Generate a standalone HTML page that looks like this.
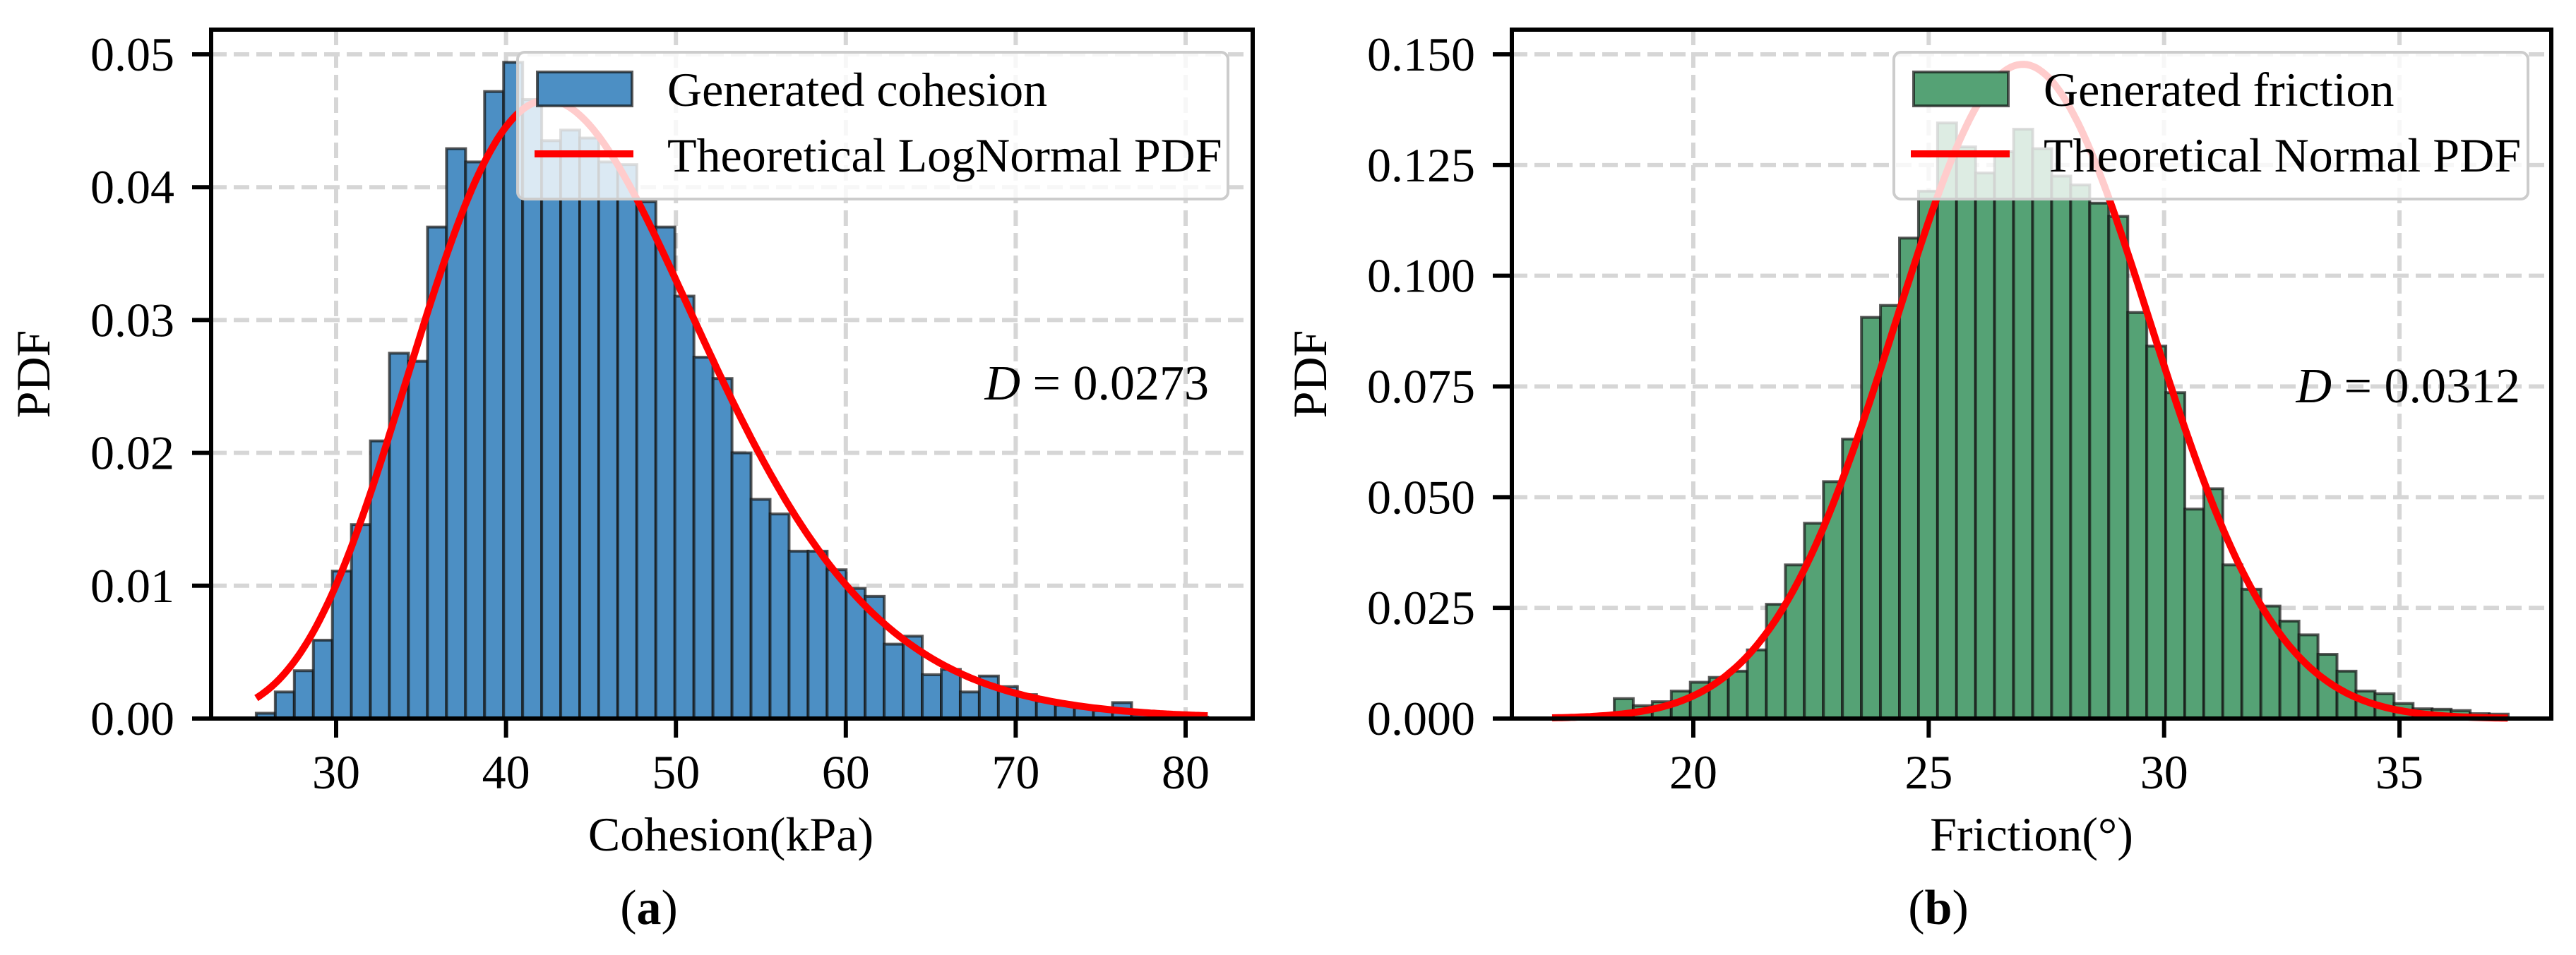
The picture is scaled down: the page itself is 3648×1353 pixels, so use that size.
<!DOCTYPE html>
<html><head><meta charset="utf-8">
<style>
html,body{margin:0;padding:0;background:#fff;}
svg{display:block;}
text{font-family:"Liberation Serif","DejaVu Serif",serif;fill:#000;}
</style></head>
<body>
<svg id="fig" width="3648" height="1353" viewBox="0 0 3648 1353" xmlns="http://www.w3.org/2000/svg"></svg>
<script>
// ---- Data: panel (a) cohesion ----
const cohBinStart = 25.3;
const cohBinWidth = 1.12;
const cohValues = [0.0004,0.0020,0.0036,0.0059,0.0111,0.0146,0.0209,0.0275,0.0269,0.0370,0.0429,0.0419,0.0472,0.0494,0.0466,0.0435,0.0443,0.0437,0.0419,0.0417,0.0389,0.0370,0.0318,0.0272,0.0256,0.0200,0.0165,0.0154,0.0126,0.0126,0.0112,0.0098,0.0092,0.0056,0.0062,0.0033,0.0037,0.0020,0.0032,0.0024,0.0018,0.0013,0.0010,0.0008,0.0006,0.0012,0.0003,0.0002,0.0001,0.0001];
const cohXTicks = [30,40,50,60,70,80];
const cohYTicks = [0.00,0.01,0.02,0.03,0.04,0.05];
const cohYTickLabels = ["0.00","0.01","0.02","0.03","0.04","0.05"];
const cohLogMu = 3.787;
const cohLogSigma = 0.198;
const cohCurveRange = [25.3,81.3];
// ---- Data: panel (b) friction ----
const friBinStart = 18.32;
const friBinWidth = 0.404;
const friValues = [0.0045,0.0029,0.0038,0.0062,0.0082,0.0093,0.0107,0.0155,0.0258,0.0347,0.0441,0.0535,0.0631,0.0906,0.0933,0.1085,0.1191,0.1345,0.1291,0.1232,0.1280,0.1331,0.1287,0.1225,0.1205,0.1164,0.1134,0.0917,0.0841,0.0736,0.0473,0.0519,0.0347,0.0292,0.0254,0.0220,0.0189,0.0145,0.0107,0.0062,0.0056,0.0034,0.0022,0.0021,0.0018,0.0011,0.0010];
const friXTicks = [20,25,30,35];
const friYTicks = [0,0.025,0.05,0.075,0.1,0.125,0.15];
const friYTickLabels = ["0.000","0.025","0.050","0.075","0.100","0.125","0.150"];
const friMean = 27.0;
const friStd = 2.70;
const friCurveRange = [17.0,37.3];

const NS="http://www.w3.org/2000/svg";
const svg=document.getElementById('fig');
function mk(tag,attrs,parent){const e=document.createElementNS(NS,tag);for(const k in attrs)e.setAttribute(k,attrs[k]);(parent||svg).appendChild(e);return e;}

function panel(o){
  const g=mk('g',{});
  
  
  const L=o.left,R=o.right,T=42,B=1018;
  const xs=v=>o.x0px+(v-o.x0)*o.xScale;
  const ys=v=>B-(v/o.yMax)*(B-o.yMaxPx);
  // grid
  const grid=mk('g',{},g);
  
  
  o.xTicks.forEach(t=>{mk('line',{x1:xs(t),x2:xs(t),y1:T,y2:B,stroke:'#d6d6d6','stroke-width':6,'stroke-dasharray':'22,10'},grid);});
  o.yTicks.forEach(t=>{mk('line',{x1:L,x2:R,y1:ys(t),y2:ys(t),stroke:'#d6d6d6','stroke-width':6,'stroke-dasharray':'22,10'},grid);});
  // bars
  const bars=mk('g',{},g);
  
  
  o.values.forEach((v,i)=>{
    const x1=xs(o.binStart+i*o.binWidth),x2=xs(o.binStart+(i+1)*o.binWidth);
    const r=mk('rect',{x:x1,y:ys(v),width:x2-x1,height:B-ys(v),fill:o.color,stroke:'rgba(20,20,20,0.7)','stroke-width':4},bars);
    
    
  });
  // curve
  let d='';const N=300;
  for(let i=0;i<=N;i++){const x=o.curveRange[0]+(o.curveRange[1]-o.curveRange[0])*i/N;d+=(i?'L':'M')+xs(x).toFixed(1)+','+ys(o.pdf(x)).toFixed(1);}
  const c=mk('path',{d:d,fill:'none',stroke:'#ff0000','stroke-width':10},g);
  
  
  // frame
  const f=mk('rect',{x:L,y:T,width:R-L,height:B-T,fill:'none',stroke:'#000','stroke-width':6},g);
  
  
  // ticks
  o.xTicks.forEach(t=>{
    mk('line',{x1:xs(t),x2:xs(t),y1:B,y2:B+27,stroke:'#000','stroke-width':6},g);
    const tx=mk('text',{x:xs(t),y:1117,'font-size':68,'text-anchor':'middle'},g);tx.textContent=t;
    
    
  });
  o.yTicks.forEach((t,i)=>{
    mk('line',{x1:L-27,x2:L,y1:ys(t),y2:ys(t),stroke:'#000','stroke-width':6},g);
    const tx=mk('text',{x:L-52,y:ys(t)+23,'font-size':68,'text-anchor':'end'},g);tx.textContent=o.yLabels[i];
    
    
  });
  // axis titles
  const xl=mk('text',{x:o.xTitleX,y:1205,'font-size':68,'text-anchor':'middle'},g);xl.textContent=o.xTitle;
  
  
  const yl=mk('text',{x:0,y:0,'font-size':68,'text-anchor':'middle',transform:`translate(${o.yTitleX},${(T+B)/2}) rotate(-90)`},g);yl.textContent='PDF';
  
  
  // D annotation
  const dt=mk('text',{x:o.dX,y:o.dY,'font-size':70,'text-anchor':'end'},g);
  dt.innerHTML='<tspan font-style="italic">D</tspan> = '+o.dVal;
  
  
  // legend
  const lg=mk('g',{},g);
  
  
  mk('rect',{x:o.legX,y:74,width:o.legW,height:208,rx:10,fill:'rgba(255,255,255,0.8)',stroke:'#cccccc','stroke-width':4},lg);
  const p=mk('rect',{x:o.legX+28,y:102,width:134,height:48,fill:o.color,stroke:'rgba(20,20,20,0.7)','stroke-width':4},lg);
  
  
  const t1=mk('text',{x:o.legX+212,y:150,'font-size':68},lg);t1.textContent=o.leg1;
  
  
  const ln=mk('line',{x1:o.legX+24,x2:o.legX+164,y1:218,y2:218,stroke:'#ff0000','stroke-width':10},lg);
  
  
  const t2=mk('text',{x:o.legX+212,y:243,'font-size':68},lg);t2.textContent=o.leg2;
  
  
  // caption
  const cap=mk('text',{x:o.capX,y:1309,'font-size':70,'text-anchor':'middle'},g);
  cap.innerHTML='(<tspan font-weight="bold">'+o.cap+'</tspan>)';
  
  
}

panel({name:'cohesion-panel',left:299,right:1774,x0:30,x0px:476,xScale:24.06,yMax:0.05,yMaxPx:77,
  values:cohValues,binStart:cohBinStart,binWidth:cohBinWidth,color:'#4c8fc4',
  xTicks:cohXTicks,yTicks:cohYTicks,yLabels:cohYTickLabels,curveRange:cohCurveRange,
  pdf:x=>Math.exp(-Math.pow(Math.log(x)-cohLogMu,2)/(2*cohLogSigma*cohLogSigma))/(x*cohLogSigma*Math.sqrt(2*Math.PI)),
  xTitle:'Cohesion(kPa)',xTitleX:1035,yTitleX:70,dX:1712,dY:566,dVal:'0.0273',
  legX:733,legW:1006,leg1:'Generated cohesion',leg2:'Theoretical LogNormal PDF',capX:919,cap:'a'});

panel({name:'friction-panel',left:2141,right:3613,x0:20,x0px:2398,xScale:66.67,yMax:0.15,yMaxPx:77,
  values:friValues,binStart:friBinStart,binWidth:friBinWidth,color:'#55a275',
  xTicks:friXTicks,yTicks:friYTicks,yLabels:friYTickLabels,curveRange:friCurveRange,
  pdf:x=>Math.exp(-Math.pow(x-friMean,2)/(2*friStd*friStd))/(friStd*Math.sqrt(2*Math.PI)),
  xTitle:'Friction(°)',xTitleX:2877,yTitleX:1878,dX:3569,dY:570,dVal:'0.0312',
  legX:2682,legW:898,leg1:'Generated friction',leg2:'Theoretical Normal PDF',capX:2745,cap:'b'});
</script>
</body></html>
